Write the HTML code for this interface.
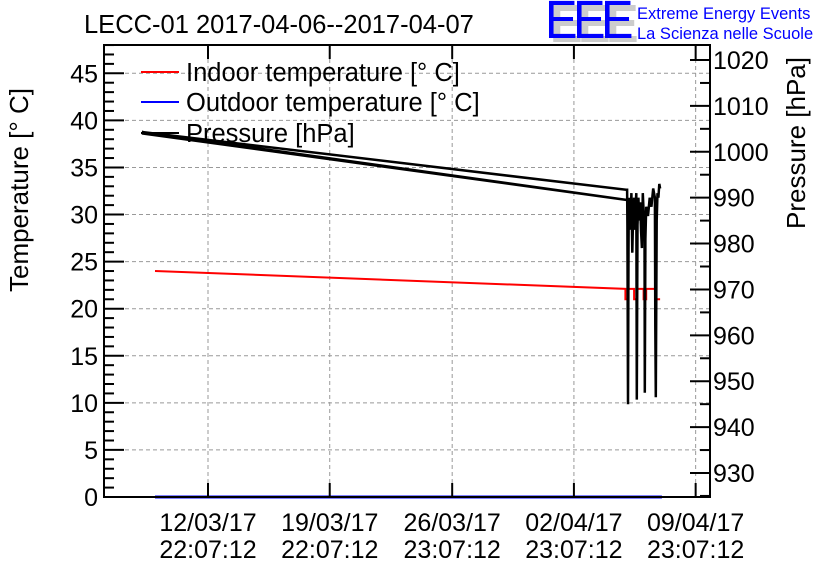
<!DOCTYPE html>
<html><head><meta charset="utf-8"><style>
body{margin:0;background:#fff;}
svg text{font-family:"Liberation Sans",sans-serif;}
</style></head><body>
<svg id="chart" width="836" height="572" xmlns="http://www.w3.org/2000/svg">
<rect width="836" height="572" fill="#fff"/>
<g id="grid"></g>
<g id="series"></g>
<g id="axes"></g>
<text x="84" y="33" font-size="25.5">LECC-01 2017-04-06--2017-04-07</text>
<g>
<text x="550" y="42" font-size="54" fill="#ccc" font-weight="bold" letter-spacing="-5" textLength="84" lengthAdjust="spacingAndGlyphs">EEE</text>
<text x="545" y="38" font-size="54" fill="#0000ff" letter-spacing="-5" textLength="84" lengthAdjust="spacingAndGlyphs">EEE</text>
<text x="637" y="19" font-size="16.5" fill="#0000ff">Extreme Energy Events</text>
<text x="637" y="39" font-size="16.5" fill="#0000ff">La Scienza nelle Scuole</text>
</g>
<text transform="translate(28,190) rotate(-90)" font-size="26" text-anchor="middle">Temperature [° C]</text>
<text transform="translate(805,143) rotate(-90)" font-size="26" text-anchor="middle">Pressure [hPa]</text>
<g>
<line x1="141" y1="72" x2="179" y2="72" stroke="#ff0000" stroke-width="2"/>
<text x="186" y="81" font-size="25.5">Indoor temperature [° C]</text>
<line x1="141" y1="102" x2="179" y2="102" stroke="#0000ff" stroke-width="2"/>
<text x="186" y="111" font-size="25.5">Outdoor temperature [° C]</text>
<line x1="141" y1="133" x2="179" y2="133" stroke="#000" stroke-width="2"/>
<text x="186" y="142" font-size="25.5">Pressure [hPa]</text>
</g>
</svg>
<script>
// days relative to 12/03/17 22:07:12
const xTickDays=[0,7,14.0417,21.0417,28.0417];
const xTickLabels=[["12/03/17","22:07:12"],["19/03/17","22:07:12"],["26/03/17","23:07:12"],["02/04/17","23:07:12"],["09/04/17","23:07:12"]];
const tempTicks=[0,5,10,15,20,25,30,35,40,45];
const presTicks=[930,940,950,960,970,980,990,1000,1010,1020];
const indoorDays=[-3.05,24.0,24.0,24.15,24.15,24.5,24.5,24.65,24.65,25.05,25.05,25.2,25.2,25.75,25.75,26.0];
const indoorTemp=[24.0,22.1,21.0,21.0,22.1,22.1,21.0,21.0,22.1,22.1,21.0,21.0,22.1,22.1,21.0,21.0];
const outdoorDays=[-3.05,26.1];
const outdoorTemp=[0,0];
const presDays=[-3.8,24.1,-3.8,24.1,24.1,24.12,24.15,24.18,24.2,24.23,24.27,24.3,24.35,24.4,24.45,24.5,24.55,24.6,24.63,24.66,24.7,24.75,24.8,24.85,24.9,24.95,25.0,25.05,25.1,25.12,25.15,25.2,25.3,25.4,25.5,25.6,25.7,25.72,25.75,25.8,25.85,25.9,25.95,26.0];
const presVal=[1004,989.5,1004.3,991.7,992,984,945,978,990,983,988,986,991,978,987,990,983,989,991,946,984,990,985,989,983,979,991,987,985,947.5,981,988,986,990,988,992,990,962,946.5,985,991,990,993,992];

const L=104,R=710,T=45,B=497;
const xs=d=>208+d*17.39;
const yT=t=>B-t*(B-73.3)/45;
const yP=p=>473-(p-930)*(473-60)/90;
const NS="http://www.w3.org/2000/svg";
function mk(tag,attrs,parent){const e=document.createElementNS(NS,tag);for(const k in attrs)e.setAttribute(k,attrs[k]);document.getElementById(parent).appendChild(e);return e;}
xTickDays.forEach(d=>{const g=mk('line',{x1:xs(d),x2:xs(d),y1:T,y2:B,stroke:'#999','stroke-dasharray':'4,3','stroke-width':1},'grid');

});
tempTicks.forEach(t=>{const g=mk('line',{x1:L,x2:R,y1:yT(t),y2:yT(t),stroke:'#999','stroke-dasharray':'4,3','stroke-width':1},'grid');

});
function poly(dx,dy,fx,fy,color,w,name){const pts=dx.map((d,i)=>fx(d).toFixed(1)+','+fy(dy[i]).toFixed(1)).join(' ');
const p=mk('polyline',{points:pts,fill:'none',stroke:color,'stroke-width':w,'stroke-linejoin':'miter'},'series');

}
poly(outdoorDays,outdoorTemp,xs,yT,'#0000ff',3,'outdoor-temperature-line');
poly(indoorDays,indoorTemp,xs,yT,'#ff0000',2,'indoor-temperature-line');
poly(presDays,presVal,xs,yP,'#000',2.5,'pressure-line');
const f=mk('rect',{x:L,y:T,width:R-L,height:B-T,fill:'none',stroke:'#000','stroke-width':2},'axes');


for(let t=0;t<=48;t++){const len=t%5===0?20:10;const l=mk('line',{x1:L,x2:L+len,y1:yT(t),y2:yT(t),stroke:'#000','stroke-width':2},'axes');

}
tempTicks.forEach(t=>{const tx=mk('text',{x:L-6,y:yT(t)+9,'font-size':25,'text-anchor':'end'},'axes');tx.textContent=t;

});
for(let p=925;p<=1023;p+=5){const len=p%10===0?20:10;const l=mk('line',{x1:R-len,x2:R,y1:yP(p),y2:yP(p),stroke:'#000','stroke-width':2},'axes');

}
presTicks.forEach(p=>{const tx=mk('text',{x:R+3,y:yP(p)+9,'font-size':25},'axes');tx.textContent=p;

});
xTickDays.forEach((d,i)=>{const l=mk('line',{x1:xs(d),x2:xs(d),y1:B,y2:B-14,stroke:'#000','stroke-width':2},'axes');


const l2=mk('line',{x1:xs(d),x2:xs(d),y1:T,y2:T+14,stroke:'#000','stroke-width':2},'axes');


xTickLabels[i].forEach((s,j)=>{const tx=mk('text',{x:xs(d),y:531+j*27,'font-size':25,'text-anchor':'middle'},'axes');tx.textContent=s;

});});
</script>
</body></html>
